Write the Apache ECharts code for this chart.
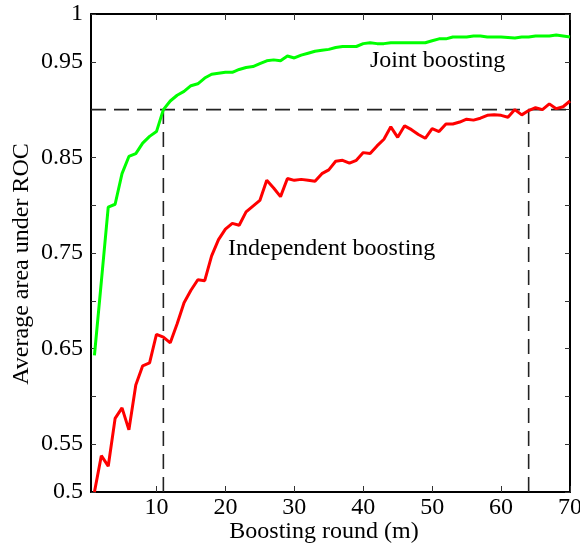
<!DOCTYPE html>
<html>
<head>
<meta charset="utf-8">
<script src="https://cdn.jsdelivr.net/npm/echarts@6/dist/echarts.min.js"></script>
<style>
  html, body { margin: 0; padding: 0; background: #fff; }
  #chart { width: 580px; height: 545px; }
</style>
</head>
<body>
<div id="chart"></div>
<script>
// boosting rounds 1..70
const rounds = []
for (let i = 1; i <= 70; i++) rounds.push(i)

const jointAuc = [
  0.643, 0.720, 0.798, 0.801, 0.833, 0.851, 0.854, 0.865, 0.872, 0.877,
  0.900, 0.909, 0.915, 0.919, 0.925, 0.927, 0.933, 0.937, 0.938, 0.939,
  0.939, 0.942, 0.944, 0.945, 0.948, 0.951, 0.952, 0.951, 0.956, 0.954,
  0.957, 0.959, 0.961, 0.962, 0.963, 0.965, 0.966, 0.966, 0.966, 0.969,
  0.970, 0.969, 0.969, 0.970, 0.970, 0.970, 0.970, 0.970, 0.970, 0.972,
  0.974, 0.974, 0.976, 0.976, 0.976, 0.977, 0.977, 0.976, 0.976, 0.976,
  0.9755, 0.975, 0.976, 0.976, 0.977, 0.977, 0.977, 0.978, 0.977, 0.976
]

const independentAuc = [
  0.500, 0.538, 0.527, 0.577, 0.588, 0.565, 0.612, 0.632, 0.635, 0.665,
  0.662, 0.656, 0.676, 0.698, 0.711, 0.722, 0.721, 0.747, 0.764, 0.775,
  0.781, 0.779, 0.793, 0.799, 0.805, 0.826, 0.818, 0.809, 0.828, 0.826,
  0.827, 0.826, 0.825, 0.833, 0.837, 0.846, 0.847, 0.844, 0.847, 0.855,
  0.854, 0.862, 0.869, 0.882, 0.871, 0.883, 0.879, 0.874, 0.870, 0.880,
  0.877, 0.885, 0.885, 0.887, 0.890, 0.889, 0.891, 0.894, 0.8945, 0.894,
  0.892, 0.900, 0.8945, 0.899, 0.902, 0.900, 0.906, 0.901, 0.903, 0.909
]

const xTicks = [10, 20, 30, 40, 50, 60, 70]
const yTickLabels = [0.5, 0.55, 0.65, 0.75, 0.85, 0.95, 1]
const targetAuc = 0.9
const jointReach = 11 // rounds needed by joint boosting
const indepReach = 64 // rounds needed by independent boosting

const font = 'Liberation Serif'
const fsize = 24

function pairs(xs, ys) {
  return xs.map((x, i) => [x, ys[i]])
}

const chart = echarts.init(document.getElementById('chart'))

const dashStyle = { color: '#222', width: 1.6, type: [15, 8] }
const frame = { show: true, lineStyle: { color: '#000', width: 2 } }

chart.setOption({
  animation: false,
  grid: { left: 91, top: 14, right: 10, bottom: 53, outerBoundsMode: 'none' },
  xAxis: [{
    type: 'value',
    min: 0.5,
    max: 70,
    axisLine: frame,
    splitLine: { show: false },
    axisTick: { inside: true, length: 6, customValues: xTicks, lineStyle: { color: '#333' } },
    axisLabel: { customValues: xTicks, margin: 4, color: '#000', fontFamily: font, fontSize: fsize }
  }, {
    type: 'value',
    position: 'top',
    min: 0.5,
    max: 70,
    axisLine: frame,
    splitLine: { show: false },
    axisTick: { inside: true, length: 6, customValues: xTicks, lineStyle: { color: '#333' } },
    axisLabel: { show: false }
  }],
  yAxis: [{
    type: 'value',
    min: 0.5,
    max: 1,
    interval: 0.05,
    axisLine: frame,
    splitLine: { show: false },
    axisTick: { inside: true, length: 5, lineStyle: { color: '#333' } },
    axisLabel: {
      customValues: yTickLabels,
      formatter: v => String(v),
      margin: 8, color: '#000', fontFamily: font, fontSize: fsize
    }
  }, {
    type: 'value',
    position: 'right',
    min: 0.5,
    max: 1,
    interval: 0.05,
    axisLine: frame,
    splitLine: { show: false },
    axisTick: { inside: true, length: 5, lineStyle: { color: '#333' } },
    axisLabel: { show: false }
  }],
  series: [{
    type: 'line',
    data: [[0.5, targetAuc], [70, targetAuc]],
    symbol: 'none',
    lineStyle: dashStyle,
    z: 1
  }, {
    type: 'line',
    data: [[jointReach, 0.5], [jointReach, targetAuc]],
    symbol: 'none',
    lineStyle: dashStyle,
    z: 1
  }, {
    type: 'line',
    data: [[indepReach, 0.5], [indepReach, targetAuc]],
    symbol: 'none',
    lineStyle: dashStyle,
    z: 1
  }, {
    name: 'Joint boosting',
    type: 'line',
    data: pairs(rounds, jointAuc),
    symbol: 'none',
    lineStyle: { color: '#00ff00', width: 3 },
    z: 3
  }, {
    name: 'Independent boosting',
    type: 'line',
    data: pairs(rounds, independentAuc),
    symbol: 'none',
    lineStyle: { color: '#ff0000', width: 3 },
    z: 3
  }],
  graphic: [{
    type: 'text',
    left: 370,
    top: 49,
    style: { text: 'Joint boosting', fill: '#000', font: fsize + 'px "' + font + '"' }
  }, {
    type: 'text',
    left: 228,
    top: 237,
    style: { text: 'Independent boosting', fill: '#000', font: fsize + 'px "' + font + '"' }
  }, {
    type: 'text',
    x: 22,
    y: 264,
    rotation: Math.PI / 2,
    style: {
      text: 'Average area under ROC', fill: '#000',
      font: fsize + 'px "' + font + '"', align: 'center', verticalAlign: 'middle'
    }
  }, {
    type: 'text',
    x: 324,
    y: 532,
    style: {
      text: 'Boosting round (m)', fill: '#000',
      font: fsize + 'px "' + font + '"', align: 'center', verticalAlign: 'middle'
    }
  }]
})
</script>
</body>
</html>
